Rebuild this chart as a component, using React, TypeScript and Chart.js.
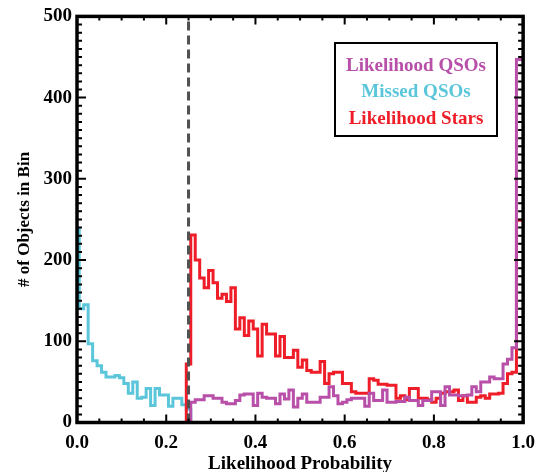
import React, { useEffect, useRef } from 'react';
import { Chart, registerables } from 'chart.js';

Chart.register(...registerables);

// Histogram bins: width 0.01, centred on 0.00, 0.01, ... 1.00
const BIN_WIDTH = 0.01;
const THRESHOLD = 0.25;

const likelihoodQSOs = [
  0, 0, 0, 0, 0, 0, 0, 0, 0, 0,
  0, 0, 0, 0, 0, 0, 0, 0, 0, 0,
  0, 0, 0, 0, 0, 0, 25, 28, 28, 33,
  33, 30, 30, 25, 23, 23, 27, 34, 35, 35,
  21, 36, 31, 30, 30, 23, 35, 29, 40, 19,
  30, 35, 25, 25, 25, 31, 31, 44, 33, 23,
  25, 28, 30, 30, 30, 20, 36, 27, 27, 40,
  25, 25, 26, 26, 31, 27, 27, 21, 27, 27,
  38, 38, 21, 44, 34, 34, 33, 33, 34, 44,
  38, 50, 50, 56, 54, 54, 72, 78, 92, 447,
  447,
];

const missedQSOs = [
  239, 140, 145, 97, 76, 70, 62, 56, 56, 58,
  55, 48, 36, 50, 30, 31, 42, 21, 42, 34,
  34, 20, 30, 30, 22, 16, 0, 0, 0, 0,
  0, 0, 0, 0, 0, 0, 0, 0, 0, 0,
  0, 0, 0, 0, 0, 0, 0, 0, 0, 0,
  0, 0, 0, 0, 0, 0, 0, 0, 0, 0,
  0, 0, 0, 0, 0, 0, 0, 0, 0, 0,
  0, 0, 0, 0, 0, 0, 0, 0, 0, 0,
  0, 0, 0, 0, 0, 0, 0, 0, 0, 0,
  0, 0, 0, 0, 0, 0, 0, 0, 0, 0,
  0,
];

const likelihoodStars = [
  0, 0, 0, 0, 0, 0, 0, 0, 0, 0,
  0, 0, 0, 0, 0, 0, 0, 0, 0, 0,
  0, 0, 0, 0, 0, 72, 231, 200, 178, 166,
  187, 172, 153, 158, 149, 166, 115, 129, 107, 125,
  115, 82, 121, 109, 109, 82, 106, 80, 80, 89,
  68, 77, 64, 62, 62, 75, 48, 60, 62, 62,
  48, 48, 38, 36, 36, 36, 54, 52, 47, 47,
  46, 46, 30, 33, 28, 42, 42, 30, 30, 28,
  25, 30, 36, 38, 38, 40, 27, 33, 25, 25,
  31, 33, 30, 35, 35, 36, 48, 60, 62, 249,
  249,
];

const legendLabels = ['Likelihood QSOs', 'Missed QSOs', 'Likelihood Stars'];
const xAxisTitle = 'Likelihood Probability';
const yAxisTitle = '# of Objects in Bin';

const COLORS = {
  qso: '#B84FA8',
  missed: '#5BC6DA',
  stars: '#EE1D28',
  dash: '#505050',
};
const FONT = '"Liberation Serif", "Times New Roman", Times, serif';

function toPoints(values: number[]) {
  return values.map((v, i) => ({ x: Math.round(i * BIN_WIDTH * 100) / 100, y: v }));
}

const overlayPlugin = {
  id: 'overlay',
  afterDatasetsDraw(chart: any) {
    const { ctx, chartArea: a, scales } = chart;
    const x = scales.x;
    const y = scales.y;
    ctx.save();

    // threshold dashed line
    const xd = x.getPixelForValue(THRESHOLD);
    ctx.strokeStyle = COLORS.dash;
    ctx.lineWidth = 3;
    ctx.setLineDash([9, 5]);
    ctx.beginPath();
    ctx.moveTo(xd, y.getPixelForValue(0));
    ctx.lineTo(xd, y.getPixelForValue(500));
    ctx.stroke();
    ctx.setLineDash([]);

    // inward ticks on all four sides
    ctx.strokeStyle = '#000';
    ctx.lineWidth = 2;
    ctx.beginPath();
    for (let k = 0; k <= 20; k++) {
      const px = x.getPixelForValue(k * 0.05);
      const len = k % 4 === 0 ? 8 : 4;
      ctx.moveTo(px, a.bottom);
      ctx.lineTo(px, a.bottom - len);
      ctx.moveTo(px, a.top);
      ctx.lineTo(px, a.top + len);
    }
    for (let k = 0; k <= 50; k++) {
      const py = y.getPixelForValue(k * 10);
      const len = k % 10 === 0 ? 9 : 5;
      ctx.moveTo(a.left, py);
      ctx.lineTo(a.left + len, py);
      ctx.moveTo(a.right, py);
      ctx.lineTo(a.right - len, py);
    }
    ctx.stroke();

    // frame
    ctx.lineWidth = 3.5;
    ctx.strokeRect(a.left, a.top, a.right - a.left, a.bottom - a.top);

    // legend box
    const bx = 335, by = 43, bw = 162, bh = 93;
    ctx.fillStyle = '#fff';
    ctx.fillRect(bx, by, bw, bh);
    ctx.lineWidth = 2;
    ctx.strokeStyle = '#000';
    ctx.strokeRect(bx, by, bw, bh);
    ctx.font = `bold 19px ${FONT}`;
    ctx.textAlign = 'center';
    ctx.textBaseline = 'middle';
    const cols = [COLORS.qso, COLORS.missed, COLORS.stars];
    legendLabels.forEach((t, i) => {
      ctx.fillStyle = cols[i];
      ctx.fillText(t, bx + bw / 2, by + 23 + i * 26.5);
    });

    // axis titles
    ctx.fillStyle = '#000';
    ctx.font = `bold 19px ${FONT}`;
    ctx.textAlign = 'center';
    ctx.textBaseline = 'alphabetic';
    ctx.fillText(xAxisTitle, (a.left + a.right) / 2, 469);

    ctx.save();
    ctx.translate(29, (a.top + a.bottom) / 2);
    ctx.rotate(-Math.PI / 2);
    ctx.font = `bold 17px ${FONT}`;
    ctx.fillText(yAxisTitle, 0, 0);
    ctx.restore();

    ctx.restore();
  },
};

export default function App() {
  const canvasRef = useRef<HTMLCanvasElement | null>(null);

  useEffect(() => {
    if (!canvasRef.current) return;
    const common = {
      stepped: 'middle' as const,
      borderWidth: 3,
      pointRadius: 0,
      fill: false,
      borderJoinStyle: 'miter' as const,
      borderCapStyle: 'butt' as const,
    };
    const chart = new Chart(canvasRef.current, {
      type: 'line',
      data: {
        datasets: [
          { ...common, label: legendLabels[0], data: toPoints(likelihoodQSOs), borderColor: COLORS.qso },
          { ...common, label: legendLabels[2], data: toPoints(likelihoodStars), borderColor: COLORS.stars },
          { ...common, label: legendLabels[1], data: toPoints(missedQSOs), borderColor: COLORS.missed },
        ],
      },
      options: {
        animation: false,
        responsive: false,
        devicePixelRatio: 1,
        layout: { padding: { left: 0, top: 12, right: 17, bottom: 0 } },
        plugins: { legend: { display: false }, tooltip: { enabled: false } },
        scales: {
          x: {
            type: 'linear',
            min: 0,
            max: 1,
            grid: { display: false, drawTicks: false },
            border: { display: false },
            ticks: {
              stepSize: 0.2,
              autoSkip: false,
              maxRotation: 0,
              padding: 9,
              color: '#000',
              font: { family: FONT, size: 19, weight: 'bold' },
              callback: (v: any) => Number(v).toFixed(1),
            },
            afterFit: (s: any) => { s.height = 49.5; },
          },
          y: {
            type: 'linear',
            min: 0,
            max: 500,
            grid: { display: false, drawTicks: false },
            border: { display: false },
            ticks: {
              stepSize: 100,
              padding: 5,
              color: '#000',
              font: { family: FONT, size: 19, weight: 'bold' },
            },
            afterFit: (s: any) => { s.width = 77; },
          },
        },
      },
      plugins: [overlayPlugin],
    });
    return () => chart.destroy();
  }, []);

  return (
    <div style={{ position: 'absolute', left: 0, top: 0, width: 544, height: 472, background: '#fff' }}>
      <canvas ref={canvasRef} width={544} height={472} style={{ display: 'block' }} />
    </div>
  );
}
